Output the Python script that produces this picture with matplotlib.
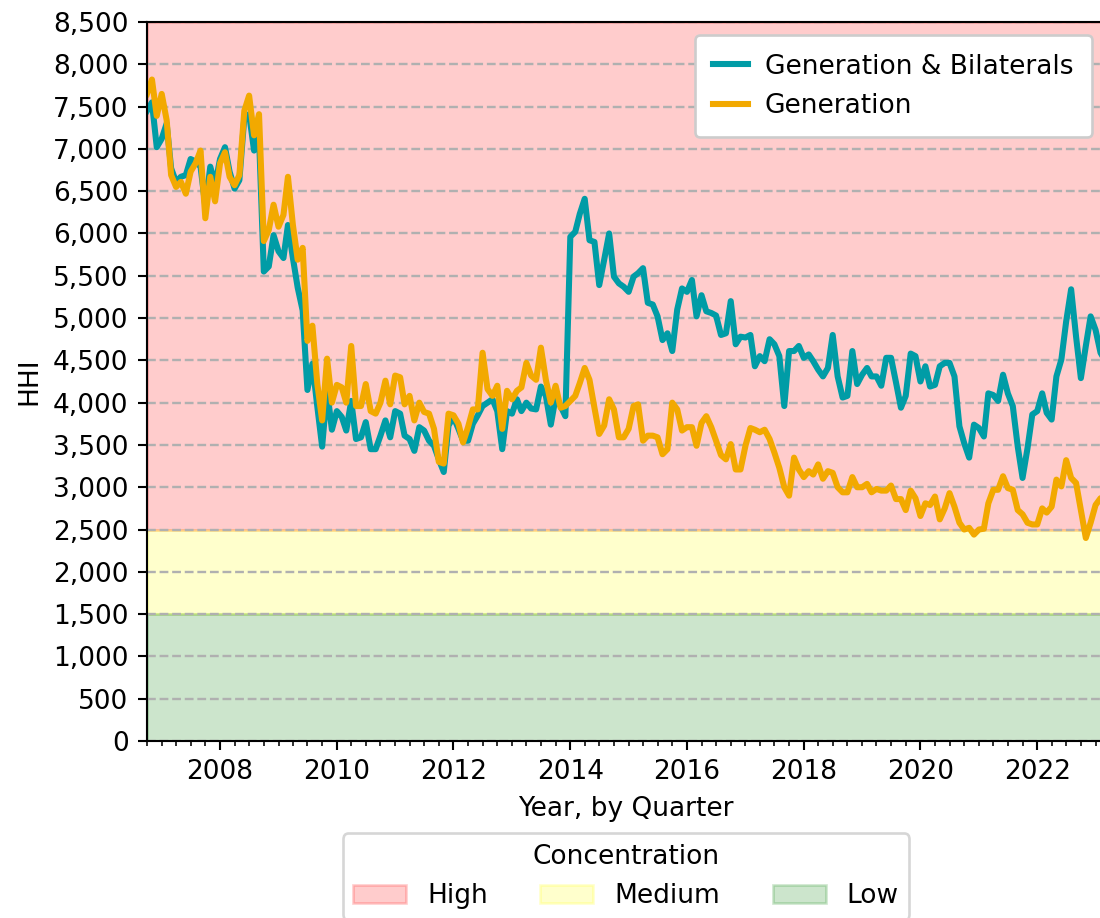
import pandas as pd
import matplotlib
matplotlib.use("Agg")
import matplotlib.pyplot as plt
import matplotlib.dates as mdates
from matplotlib.patches import Patch
from matplotlib.ticker import FuncFormatter, MultipleLocator

# monthly HHI, Oct 2006 .. Mar 2023
months = pd.date_range("2006-10-01", periods=198, freq="MS")

gen_bilat = [
    7450, 7550, 7020, 7120, 7300, 6770, 6610, 6670, 6690, 6880, 6850, 6790,
    6320, 6790, 6570, 6880, 7020, 6730, 6530, 6630, 7370, 7410, 6980, 7140,
    5550, 5610, 5980, 5790, 5710, 6100, 5710, 5360, 5090, 4150, 4460, 3950,
    3480, 4150, 3680, 3900, 3830, 3670, 4020, 3570, 3590, 3770, 3450, 3450,
    3610, 3790, 3590, 3900, 3870, 3610, 3570, 3430, 3710, 3670, 3550, 3490,
    3330, 3180, 3730, 3830, 3690, 3550, 3550, 3750, 3850, 3960, 4000, 4040,
    3900, 3450, 3900, 3870, 4040, 3900, 4000, 3930, 3920, 4190, 4080, 3740,
    4060, 3960, 3840, 5960, 6020, 6230, 6410, 5920, 5900, 5390, 5690, 6000,
    5490, 5410, 5370, 5310, 5490, 5530, 5590, 5180, 5160, 5020, 4740, 4820,
    4610, 5100, 5350, 5310, 5450, 5020, 5270, 5080, 5060, 5030, 4800, 4820,
    5200, 4690, 4780, 4770, 4800, 4430, 4550, 4490, 4750, 4690, 4550, 3960,
    4610, 4610, 4670, 4530, 4570, 4490, 4390, 4310, 4410, 4800, 4310, 4060,
    4080, 4610, 4220, 4330, 4410, 4310, 4310, 4200, 4530, 4530, 4240, 3940,
    4080, 4580, 4550, 4250, 4430, 4190, 4210, 4430, 4470, 4470, 4310, 3720,
    3520, 3350, 3740, 3700, 3600, 4110, 4090, 4020, 4330, 4110, 3960, 3480,
    3110, 3460, 3860, 3900, 4110, 3880, 3800, 4310, 4510, 4960, 5340, 4780,
    4290, 4670, 5020, 4860, 4590, 4500,
]

generation = [
    7650, 7820, 7390, 7650, 7340, 6690, 6550, 6610, 6470, 6730, 6830, 6980,
    6180, 6670, 6380, 6830, 6960, 6670, 6570, 6690, 7450, 7630, 7160, 7410,
    5910, 6040, 6340, 6080, 6220, 6670, 6100, 5690, 5830, 4730, 4910, 4220,
    3790, 4520, 4000, 4210, 4180, 4000, 4670, 3960, 3960, 4220, 3900, 3870,
    4000, 4260, 3980, 4320, 4300, 3980, 4080, 3790, 4000, 3890, 3870, 3690,
    3300, 3280, 3870, 3850, 3750, 3530, 3710, 3920, 3920, 4590, 4160, 4080,
    4200, 3690, 4140, 4040, 4140, 4180, 4470, 4320, 4270, 4650, 4270, 4000,
    4200, 3940, 3960, 4020, 4080, 4230, 4410, 4270, 3940, 3630, 3730, 4040,
    3920, 3590, 3590, 3690, 3960, 3980, 3550, 3610, 3610, 3590, 3390, 3450,
    4000, 3920, 3670, 3710, 3710, 3490, 3760, 3840, 3710, 3550, 3380, 3330,
    3510, 3210, 3210, 3490, 3700, 3680, 3650, 3680, 3570, 3410, 3230, 3000,
    2900, 3350, 3210, 3120, 3190, 3150, 3270, 3100, 3190, 3170, 3000, 2940,
    2940, 3120, 3000, 3000, 3040, 2940, 2980, 2960, 2960, 3020, 2860, 2860,
    2730, 2960, 2870, 2660, 2810, 2790, 2890, 2620, 2750, 2930, 2770, 2580,
    2500, 2520, 2440, 2500, 2510, 2810, 2970, 2970, 3130, 2990, 2970, 2730,
    2680, 2580, 2560, 2560, 2750, 2700, 2770, 3090, 3010, 3320, 3110, 3050,
    2730, 2400, 2580, 2790, 2870, 2850,
]

# concentration bands (lower, upper, label, colour)
bands = [
    (2500, 8500, "High", "red"),
    (1500, 2500, "Medium", "yellow"),
    (0, 1500, "Low", "green"),
]

fig = plt.figure(figsize=(1100 / 190, 918 / 190), dpi=190)
ax = fig.add_axes([147 / 1100, 1 - 741 / 918, 958 / 1100, 719 / 918])

for lo, hi, label, col in bands:
    ax.axhspan(lo, hi, color=col, alpha=0.2)

ax.plot(months, gen_bilat, color="#009ca6", lw=2.3, label="Generation & Bilaterals")
ax.plot(months, generation, color="#f2a900", lw=2.3, label="Generation")

ax.set_xlim(months[0], months[-1])
ax.set_ylim(0, 8500)
ax.yaxis.set_major_locator(MultipleLocator(500))
ax.yaxis.set_major_formatter(FuncFormatter(lambda v, p: f"{int(v):,}"))
ax.xaxis.set_major_locator(mdates.YearLocator(2))
ax.xaxis.set_major_formatter(mdates.DateFormatter("%Y"))
ax.xaxis.set_minor_locator(mdates.MonthLocator(bymonth=(1, 4, 7, 10)))

ax.grid(axis="y", linestyle="--", color="#b0b0b0", lw=0.9)
ax.set_xlabel("Year, by Quarter")
ax.set_ylabel("HHI")

leg1 = ax.legend(loc="upper right", framealpha=1, borderpad=0.7,
                 handlelength=1.3, handletextpad=0.65)
ax.add_artist(leg1)

handles = [Patch(facecolor=c, edgecolor=c, alpha=0.2, label=l) for _, _, l, c in bands]
ax.legend(handles=handles, title="Concentration", ncol=3, loc="upper center",
          bbox_to_anchor=(0.5, -0.11), frameon=True)

fig.savefig("out.png", dpi=190)
